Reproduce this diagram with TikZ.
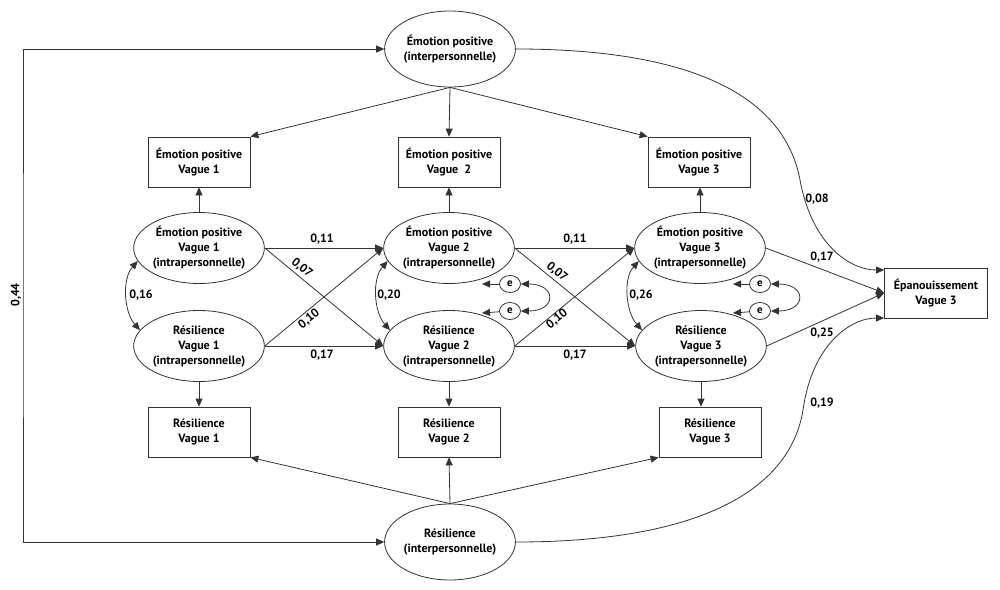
\documentclass[tikz,border=0pt]{standalone}
\usepackage{fontspec}
\setmainfont{PT Sans}
\usetikzlibrary{shapes.geometric,arrows.meta,calc}
\begin{document}
\begin{tikzpicture}[x=1pt,y=-1pt,
 every node/.style={font=\bfseries\fontsize{12}{15}\selectfont, text=black},
 lat/.style={ellipse,draw=black!80,line width=0.8pt,align=center,inner sep=0pt,minimum width=128pt,minimum height=71pt},
 inter/.style={lat,minimum width=121pt,minimum height=76pt},
 obs/.style={rectangle,draw=black!80,line width=0.8pt,align=center,inner sep=0pt,minimum width=102pt,minimum height=50pt},
 err/.style={ellipse,draw=black!80,line width=0.8pt,inner sep=0pt,minimum width=21pt,minimum height=17pt,font=\bfseries\fontsize{11}{12}\selectfont},
 arr/.style={-{Triangle[length=8pt,width=7pt]},draw=black!80,line width=0.8pt},
 darr/.style={{Triangle[length=8pt,width=7pt]}-{Triangle[length=8pt,width=7pt]},draw=black!80,line width=0.8pt},
 lbl/.style={inner sep=1pt}
]
\useasboundingbox (0,0) rectangle (1000,589);

% interpersonal latent
\node[inter] (top) at (450,49) {Émotion positive\\(interpersonnelle)};
\node[inter] (bot) at (450,542) {Résilience\\(interpersonnelle)};

% observed boxes
\node[obs] (pe1) at (199,162) {Émotion positive\\Vague 1};
\node[obs] (pe2) at (449,162) {Émotion positive\\Vague~~2};
\node[obs] (pe3) at (699,162) {Émotion positive\\Vague 3};
\node[obs] (pr1) at (199,432) {Résilience\\Vague 1};
\node[obs] (pr2) at (449,432) {Résilience\\Vague 2};
\node[obs] (pr3) at (710,432) {Résilience\\Vague 3};
\node[obs,minimum width=103pt] (ep) at (936,293) {Épanouissement\\Vague 3};

% intrapersonal latent
\node[lat] (E1) at (199,248) {Émotion positive\\Vague 1\\(intrapersonnelle)};
\node[lat] (E2) at (449,248) {Émotion positive\\Vague 2\\(intrapersonnelle)};
\node[lat] (E3) at (700,248) {Émotion positive\\Vague 3\\(intrapersonnelle)};
\node[lat] (R1) at (199,346) {Résilience\\Vague 1\\(intrapersonnelle)};
\node[lat] (R2) at (449,346) {Résilience\\Vague 2\\(intrapersonnelle)};
\node[lat] (R3) at (701,346) {Résilience\\Vague 3\\(intrapersonnelle)};

% error terms
\node[err] (e1) at (510,284) {e};
\node[err] (e2) at (510,311) {e};
\node[err] (e3) at (760,284) {e};
\node[err] (e4) at (760,311) {e};
\coordinate (t1) at (482,284);
\coordinate (t2) at (482,313);
\coordinate (t3) at (733,284);
\coordinate (t4) at (733,313);
\coordinate (L) at (23,295);

% interpersonal to observed
\draw[arr] (top.south) -- (pe1.north east);
\draw[arr] (top.south) -- (pe2.north);
\draw[arr] (top.south) -- (pe3.north west);
\draw[arr] (bot.north) -- (pr1.south east);
\draw[arr] (bot.north) -- (pr2.south);
\draw[arr] (bot.north) -- (pr3.south west);

% intrapersonal to observed
\draw[arr] (E1.north) -- (pe1.south);
\draw[arr] (E2.north) -- (pe2.south);
\draw[arr] (E3.north) -- (E3.north |- pe3.south);
\draw[arr] (R1.south) -- (pr1.north);
\draw[arr] (R2.south) -- (pr2.north);
\draw[arr] (R3.south) -- (R3.south |- pr3.north);

% cross-lagged paths
\draw[arr] (E1.east) -- (E2.west);
\draw[arr] (R1.east) -- (R2.west);
\draw[arr] (E1.east) -- (R2.west);
\draw[arr] (R1.east) -- (E2.west);
\draw[arr] (E2.east) -- (E3.west);
\draw[arr] (R2.east) -- (R3.west);
\draw[arr] (E2.east) -- (R3.west);
\draw[arr] (R2.east) -- (E3.west);

% to outcome
\draw[arr] (E3.east) -- (ep.west);
\draw[arr] (R3.east) -- (ep.west);
\draw[arr] (top.east) .. controls (700,49) and (785,100) .. (800,180) .. controls (812,245) and (850,270) .. ([yshift=23pt]ep.west);
\draw[arr] (bot.east) .. controls (700,542) and (790,490) .. (803,410) .. controls (812,345) and (850,318) .. ([yshift=-25pt]ep.west);

% covariances
\draw[darr] (E1.192) .. controls +(-16,18) and +(-16,-18) .. (R1.165);
\draw[darr] (E2.192) .. controls +(-16,18) and +(-16,-18) .. (R2.165);
\draw[darr] (E3.192) .. controls +(-16,18) and +(-16,-18) .. (R3.165);
\draw[darr] (e1.east) .. controls +(36,0) and +(36,0) .. (e2.east);
\draw[darr] (e3.east) .. controls +(36,0) and +(36,0) .. (e4.east);
\draw[darr] (top.west) -| (L) |- (bot.west);

% residual arrows
\draw[arr] (e1) -- (t1);
\draw[arr] (e2) -- (t2);
\draw[arr] (e3) -- (t3);
\draw[arr] (e4) -- (t4);

% labels
\node[lbl] at (322,239) {0,11};
\node[lbl] at (575,239) {0,11};
\node[lbl] at (322,355) {0,17};
\node[lbl] at (575,355) {0,17};
\node[lbl,rotate=-39] at (302,268) {0,07};
\node[lbl,rotate=-39] at (557,272) {0,07};
\node[lbl,rotate=39] at (309,319) {0,10};
\node[lbl,rotate=39] at (557,319) {0,10};
\node[lbl] at (141,295) {0,16};
\node[lbl] at (389,295) {0,20};
\node[lbl] at (641,295) {0,26};
\node[lbl] at (822,257) {0,17};
\node[lbl] at (822,333) {0,25};
\node[lbl] at (817,199) {0,08};
\node[lbl] at (822,403) {0,19};
\node[lbl,rotate=90] at (16,295) {0,44};
\end{tikzpicture}
\end{document}
